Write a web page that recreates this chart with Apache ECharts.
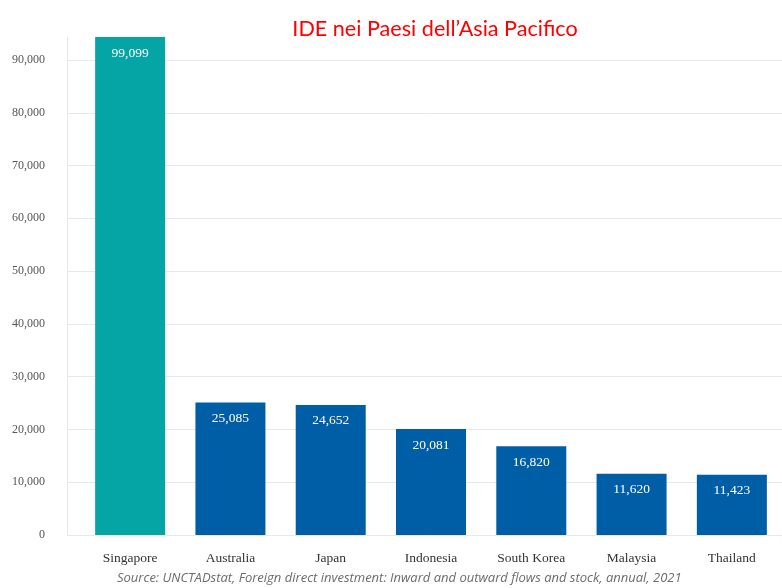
<!DOCTYPE html>
<html>
<head>
<meta charset="utf-8">
<script src="https://cdn.jsdelivr.net/npm/echarts@6/dist/echarts.min.js"></script>
<style>
  html, body { margin: 0; padding: 0; background: #fff; }
  #chart { width: 782px; height: 588px; }
</style>
</head>
<body>
<div id="chart"></div>
<script>
var countries = ['Singapore', 'Australia', 'Japan', 'Indonesia', 'South Korea', 'Malaysia', 'Thailand'];
var fdiValues = [99099, 25085, 24652, 20081, 16820, 11620, 11423];
var barColors = ['#05a5a6', '#005ea6', '#005ea6', '#005ea6', '#005ea6', '#005ea6', '#005ea6'];

var chartDom = document.getElementById('chart');
var chart = echarts.init(chartDom);

function fmt(v) {
    return Number(v).toLocaleString('en-US');
}

var option = {
    animation: false,
    title: {
        text: 'IDE nei Paesi dell\u2019Asia Pacifico',
        left: 430,
        textAlign: 'center',
        top: 13,
        textStyle: { color: '#ff0000', fontFamily: 'Lato', fontSize: 21.6, fontWeight: 'normal' }
    },
    graphic: [{
        type: 'text',
        left: 117,
        top: 572,
        style: {
            text: 'Source: UNCTADstat, Foreign direct investment: Inward and outward flows and stock, annual, 2021',
            fill: '#6b6b6b',
            font: 'italic 13px "Open Sans"'
        }
    }, {
        // light vertical axis line at the left of the plot
        type: 'line',
        shape: { x1: 67.5, y1: 37, x2: 67.5, y2: 535 },
        style: { stroke: '#e8e8e8', lineWidth: 1 },
        z: 0
    }],
    grid: [
        // grid for visible y axis & gridlines (top = 90,000)
        { left: 67, right: 0, top: 60, bottom: 53 },
        // grid for the bars (extends above 90,000)
        { left: 80, right: 0, top: 37, bottom: 53 }
    ],
    xAxis: [
        { type: 'category', gridIndex: 0, data: countries, show: false },
        {
            type: 'category', gridIndex: 1, data: countries,
            axisLine: { show: false },
            axisTick: { show: false },
            axisLabel: { margin: 16, color: '#333', fontFamily: 'Liberation Serif', fontSize: 13.5 }
        }
    ],
    yAxis: [
        {
            type: 'value', gridIndex: 0, min: 0, max: 90000, interval: 10000,
            axisLine: { show: false },
            axisTick: { show: false },
            axisLabel: { margin: 22, color: '#555', fontFamily: 'Liberation Serif', fontSize: 12, formatter: fmt },
            splitLine: { lineStyle: { color: '#e8e8e8', width: 1 } }
        },
        { type: 'value', gridIndex: 1, min: 0, max: 94350, show: false }
    ],
    series: [{
        type: 'bar',
        xAxisIndex: 1,
        yAxisIndex: 1,
        barWidth: 70,
        data: fdiValues.map(function (v, i) {
            return { value: v, itemStyle: { color: barColors[i] } };
        }),
        label: {
            show: true,
            position: 'insideTop',
            distance: 9,
            color: '#fff',
            fontFamily: 'Liberation Serif',
            fontSize: 13.5,
            formatter: function (p) { return fmt(p.value); }
        }
    }]
};
chart.setOption(option);
</script>
</body>
</html>
